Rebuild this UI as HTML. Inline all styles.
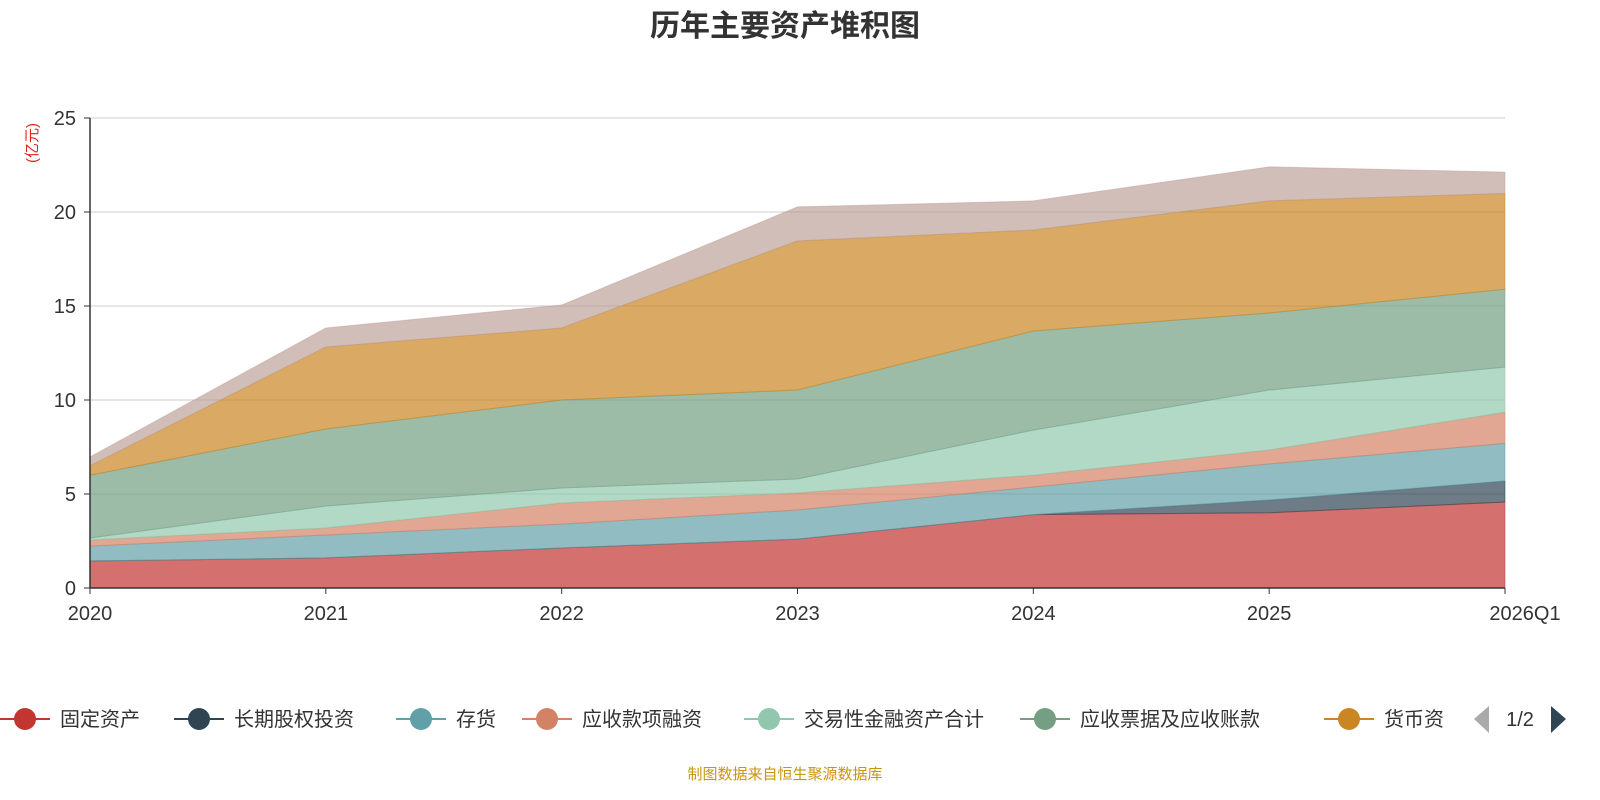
<!DOCTYPE html>
<html><head><meta charset="utf-8"><style>
html,body{margin:0;padding:0;background:#fff;overflow:hidden;width:1600px;height:800px;font-family:"Liberation Sans","Noto Sans CJK SC",sans-serif;}
svg{display:block;}
svg text{font-family:"Liberation Sans","Noto Sans CJK SC",sans-serif;}
</style></head><body>
<svg id="c" width="1600" height="800">
<text x="785" y="36" text-anchor="middle" font-size="30" font-weight="bold" fill="#333">历年主要资产堆积图</text>
<text x="0" y="0" transform="translate(37,143) rotate(-90)" text-anchor="middle" font-size="15" fill="#e02020">(亿元)</text>
<g id="grid"></g><g id="areas"></g><g id="axes"></g><g id="legend"></g>
<text x="785" y="779" text-anchor="middle" font-size="15" fill="#c8960c">制图数据来自恒生聚源数据库</text>
<polygon points="1489,706 1489,733 1474,719" fill="#aaa"/>
<text x="1520" y="726" text-anchor="middle" font-size="20" fill="#333">1/2</text>
<polygon points="1551,706 1551,733 1566,719" fill="#2f4554"/>
</svg>
<script>
const categories=["2020","2021","2022","2023","2024","2025","2026Q1"];
const seriesNames=["固定资产","长期股权投资","存货","应收款项融资","交易性金融资产合计","应收票据及应收账款","货币资金","其他"];
const fixedAssets=[1.44,1.6,2.13,2.6,3.9,4.0,4.57];
const longTermEquity=[0,0,0,0,0,0.68,1.12];
const inventory=[0.79,1.22,1.27,1.55,1.47,1.92,2.0];
const receivablesFinancing=[0.32,0.37,1.12,0.9,0.63,0.74,1.66];
const tradingAssets=[0.11,1.17,0.8,0.75,2.4,3.19,2.4];
const notesReceivable=[3.34,4.1,4.68,4.73,5.27,4.1,4.14];
const cash=[0.5,4.36,3.83,7.93,5.37,5.96,5.1];
const others=[0.47,1.01,1.22,1.81,1.55,1.81,1.13];
const yTicks=[0,5,10,15,20,25];
const colors=["#c23531","#2f4554","#61a0a8","#d48265","#91c7ae","#749f83","#ca8622","#bda29a"];
const NS="http://www.w3.org/2000/svg";
const x0=90,x1=1505,y0=588,y1=118,yMax=25;
const xs=i=>x0+(x1-x0)*i/(categories.length-1);
const ys=v=>y0-(y0-y1)*v/yMax;
function mk(tag,attrs,parent){const e=document.createElementNS(NS,tag);for(const k in attrs)e.setAttribute(k,attrs[k]);parent.appendChild(e);return e;}
const grid=document.getElementById('grid'),axes=document.getElementById('axes'),areas=document.getElementById('areas'),legend=document.getElementById('legend');
yTicks.forEach(t=>{
 if(t>0){const l=mk('line',{x1:x0,x2:x1,y1:ys(t),y2:ys(t),stroke:'#ccc','stroke-width':1},grid);
 
 }
 const tx=mk('text',{x:76,y:ys(t)+7,'text-anchor':'end','font-size':20,fill:'#333'},axes);tx.textContent=t;
 
 
 const tk=mk('line',{x1:x0-6,x2:x0,y1:ys(t),y2:ys(t),stroke:'#333'},axes);
 
 
});
const series=[fixedAssets,longTermEquity,inventory,receivablesFinancing,tradingAssets,notesReceivable,cash,others];
let base=categories.map(()=>0);
series.forEach((s,si)=>{
 const top=base.map((b,i)=>b+s[i]);
 let d='M'+categories.map((c,i)=>xs(i)+','+ys(top[i])).join('L');
 for(let i=categories.length-1;i>=0;i--)d+='L'+xs(i)+','+ys(base[i]);
 d+='Z';
 const p=mk('path',{d:d,fill:colors[si],'fill-opacity':0.7,stroke:colors[si],'stroke-opacity':0.5,'stroke-width':1},areas);
 
 
 base=top;
});
const ax=mk('line',{x1:x0,x2:x1,y1:y0,y2:y0,stroke:'#333','stroke-width':1.5},axes);


const ay=mk('line',{x1:x0,x2:x0,y1:y0,y2:y1,stroke:'#333','stroke-width':1.5},axes);


categories.forEach((c,i)=>{
 const tk=mk('line',{x1:xs(i),x2:xs(i),y1:y0,y2:y0+6,stroke:'#333'},axes);
 
 
 const t=mk('text',{x:xs(i)+(i==categories.length-1?20:0),y:620,'text-anchor':'middle','font-size':20,fill:'#333'},axes);t.textContent=c;
 
 
});
const legX=[0,174,396,522,744,1020,1324];
legX.forEach((lx,i)=>{
 const g=mk('g',{},legend);
 
 
 mk('line',{x1:lx,x2:lx+50,y1:719,y2:719,stroke:colors[i],'stroke-width':2},g);
 mk('circle',{cx:lx+25,cy:719,r:11,fill:colors[i]},g);
 const t=mk('text',{x:lx+60,y:726,'font-size':20,fill:'#333'},g);
 t.textContent=i==6?'货币资':seriesNames[i];
});
</script>
</body></html>
